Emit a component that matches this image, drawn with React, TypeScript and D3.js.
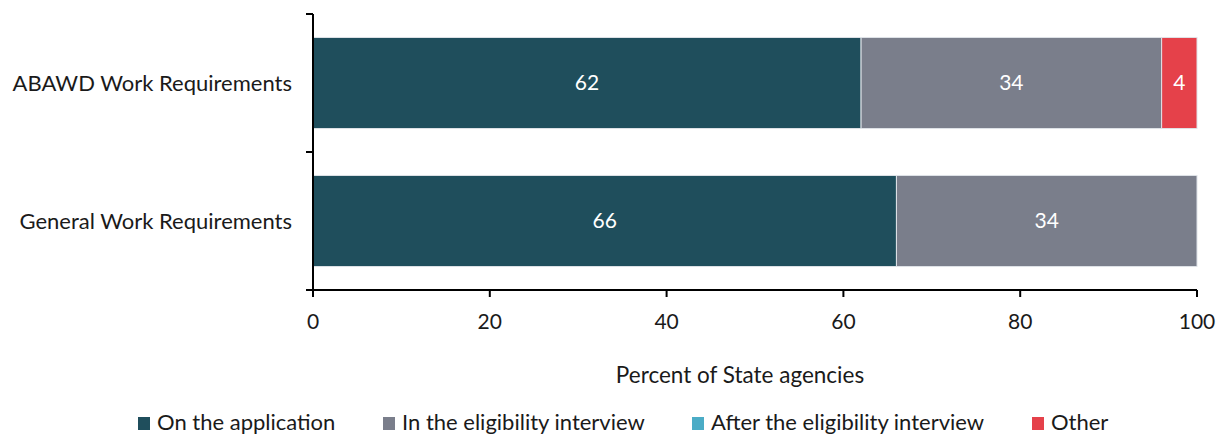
import React from "react";
import * as d3 from "d3";

const categories = ["ABAWD Work Requirements", "General Work Requirements"];
const seriesNames = [
  "On the application",
  "In the eligibility interview",
  "After the eligibility interview",
  "Other",
];
const onApplication = [62, 66];
const inInterview = [34, 34];
const afterInterview = [0, 0];
const other = [4, 0];
const seriesColors = ["#1F4E5C", "#7A7E8B", "#4BACC6", "#E5414A"];
const xTicks = [0, 20, 40, 60, 80, 100];

const W = 1219;
const H = 435;
const FONT = "Lato, 'Open Sans', sans-serif";

export default function App() {
  const rows = categories.map((c, i) => ({
    category: c,
    s0: onApplication[i],
    s1: inInterview[i],
    s2: afterInterview[i],
    s3: other[i],
  }));
  const keys = ["s0", "s1", "s2", "s3"];
  const stacked = d3.stack<any>().keys(keys)(rows);

  const x = d3.scaleLinear().domain([0, 100]).range([313, 1197]);
  const y = d3
    .scaleBand<string>()
    .domain(categories)
    .range([14, 290])
    .paddingInner(0.34)
    .paddingOuter(0.17);
  const bw = y.bandwidth();
  const step = y.step();
  const axisTop = 14;
  const axisBottom = 290;

  const legendX = [138, 383, 692, 1032];

  return (
    <svg
      width={W}
      height={H}
      style={{ position: "absolute", left: 0, top: 0, background: "#fff" }}
      fontFamily={FONT}
    >
      {stacked.map((layer, si) =>
        layer.map((d, ci) => {
          const v = d[1] - d[0];
          if (v <= 0) return null;
          const x0 = x(d[0]);
          const x1 = x(d[1]);
          const yy = y(categories[ci])!;
          return (
            <g key={`${si}-${ci}`}>
              <rect
                x={x0}
                y={yy}
                width={x1 - x0}
                height={bw}
                fill={seriesColors[si]}
                stroke="#dfe3e8"
                strokeWidth={1}
              />
              <text
                x={(x0 + x1) / 2}
                y={yy + bw / 2}
                dy="0.35em"
                textAnchor="middle"
                fill="#fff"
                fontSize={21}
              >
                {v}
              </text>
            </g>
          );
        })
      )}

      {/* y axis */}
      <line x1={313} x2={313} y1={axisTop} y2={axisBottom} stroke="#000" strokeWidth={2} />
      {[0, 1, 2].map((i) => (
        <line
          key={i}
          x1={306}
          x2={313}
          y1={axisTop + i * step}
          y2={axisTop + i * step}
          stroke="#000"
          strokeWidth={2}
        />
      ))}
      {categories.map((c) => (
        <text
          key={c}
          x={292}
          y={y(c)! + bw / 2}
          dy="0.35em"
          textAnchor="end"
          fontSize={22}
          fill="#1a1a1a"
        >
          {c}
        </text>
      ))}

      {/* x axis */}
      <line x1={313} x2={1197} y1={axisBottom} y2={axisBottom} stroke="#000" strokeWidth={2} />
      {xTicks.map((t) => (
        <g key={t}>
          <line x1={x(t)} x2={x(t)} y1={axisBottom} y2={axisBottom + 7} stroke="#000" strokeWidth={2} />
          <text x={x(t)} y={329} textAnchor="middle" fontSize={21} fill="#1a1a1a">
            {t}
          </text>
        </g>
      ))}
      <text x={740} y={383} textAnchor="middle" fontSize={22.5} fill="#1a1a1a">
        Percent of State agencies
      </text>

      {/* legend */}
      {seriesNames.map((n, i) => (
        <g key={n}>
          <rect x={legendX[i]} y={417} width={12} height={13} fill={seriesColors[i]} />
          <text x={legendX[i] + 19} y={430} fontSize={22} fill="#1a1a1a">
            {n}
          </text>
        </g>
      ))}
    </svg>
  );
}
